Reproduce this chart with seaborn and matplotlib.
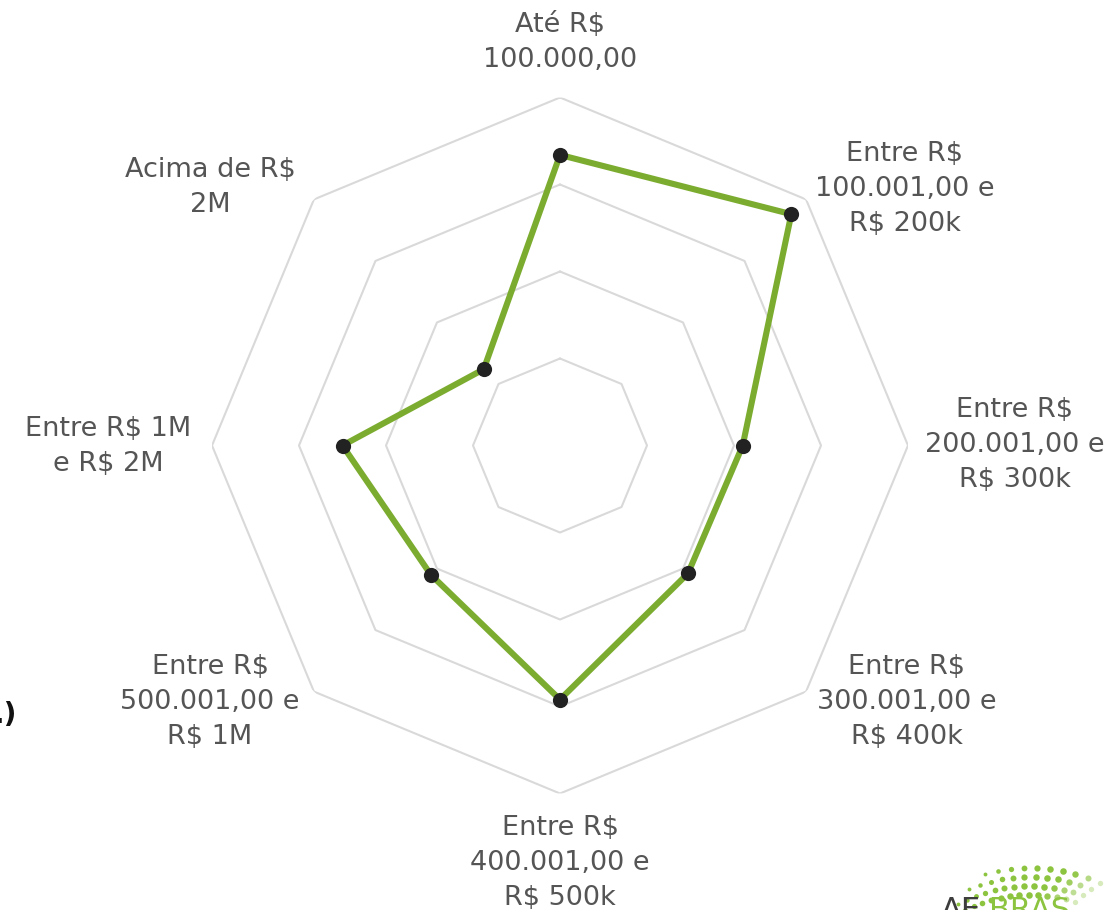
import numpy as np
import pandas as pd
import matplotlib
matplotlib.use("Agg")
import matplotlib.pyplot as plt
import seaborn as sns

sns.set_theme(style="white")
plt.rcParams['font.family'] = ['DejaVu Sans']

categories = [
    "Até R$\n100.000,00",
    "Entre R$\n100.001,00 e\nR$ 200k",
    "Entre R$\n200.001,00 e\nR$ 300k",
    "Entre R$\n300.001,00 e\nR$ 400k",
    "Entre R$\n400.001,00 e\nR$ 500k",
    "Entre R$\n500.001,00 e\nR$ 1M",
    "Entre R$ 1M\ne R$ 2M",
    "Acima de R$\n2M",
]
values = [16.7, 18.8, 10.5, 10.4, 14.6, 10.5, 12.5, 6.2]
ring_levels = [5, 10, 15, 20]

W, H = 1112, 910
fig = plt.figure(figsize=(W / 100, H / 100), dpi=100)
cx, cy, R = 560, 445.5, 348
ax = fig.add_axes([(cx - R) / W, (H - cy - R) / H, 2 * R / W, 2 * R / H], projection="polar")
ax.set_theta_offset(np.pi / 2)
ax.set_theta_direction(-1)
ax.set_ylim(0, 20)
ax.grid(False)
ax.set_xticks([])
ax.set_yticks([])
ax.spines["polar"].set_visible(False)
ax.set_facecolor("none")

n = len(categories)
angles = np.linspace(0, 2 * np.pi, n, endpoint=False)
closed_angles = np.append(angles, angles[0])

for lvl in ring_levels:
    ax.plot(closed_angles, [lvl] * (n + 1), color="#d9d9d9", lw=1.5, zorder=1)

df = pd.DataFrame({"theta": np.append(angles, angles[0]),
                   "r": values + [values[0]],
                   "order": range(n + 1)})
sns.lineplot(data=df, x="theta", y="r", sort=False, ax=ax, color="#7cac2f",
             lw=4.4, zorder=3, estimator=None)
sns.scatterplot(data=df.iloc[:n], x="theta", y="r", ax=ax, color="#222222",
                s=120, edgecolor="#222222", zorder=4, linewidth=0)
ax.set_xlabel("")
ax.set_ylabel("")
ax.set_ylim(0, 20)

label_pos = [(560, 43), (905, 189), (1015, 445), (907, 702),
             (560, 863), (210, 702), (108, 446), (210, 188)]
for lab, (x, y) in zip(categories, label_pos):
    fig.text(x / W, 1 - y / H, lab, ha="center", va="center", multialignment="center",
             fontsize=19.5, color="#555555", linespacing=1.45)

# clipped text at the left edge (cut in the reference as well)
fig.text(17 / W, 1 - 715 / H, ".)", ha="right", va="center", fontsize=20,
         color="#111111", fontweight="bold")

# partially visible logo at the bottom right (cut by the image edge, as in the reference)
fig.text(941 / W, 1 - 896 / H, "AE", ha="left", va="top", fontsize=22, color="#3d3d3d")
fig.text(989 / W, 1 - 896 / H, "BRAS", ha="left", va="top", fontsize=22, color="#8cc43f")
lax = fig.add_axes([0, 0, 1, 1], facecolor="none")
lax.set_xlim(0, W)
lax.set_ylim(H, 0)
lax.axis("off")
lcx, lcy = 1030, 1040
for row, (rad, a0, a1, cnt) in enumerate([(172, 105, 66, 10), (163, 112, 68, 12),
                                           (154, 118, 70, 14), (145, 124, 72, 15)]):
    th = np.radians(np.linspace(a0, a1, cnt))
    xs = lcx + rad * np.cos(th)
    ys = lcy - rad * np.sin(th)
    t = np.linspace(0, 1, cnt)
    sizes = 3 + 26 * np.sin(np.pi * (0.15 + 0.7 * t)) * (0.4 + 0.6 * t)
    alphas = np.where(t > 0.75, 1 - (t - 0.75) * 2.6, 1)
    for xx, yy, ss, aa in zip(xs, ys, sizes, alphas):
        lax.scatter([xx], [yy], s=ss, color="#8cc43f", alpha=float(np.clip(aa, 0.25, 1)), lw=0)

fig.savefig("out.png", dpi=100, facecolor="white")
